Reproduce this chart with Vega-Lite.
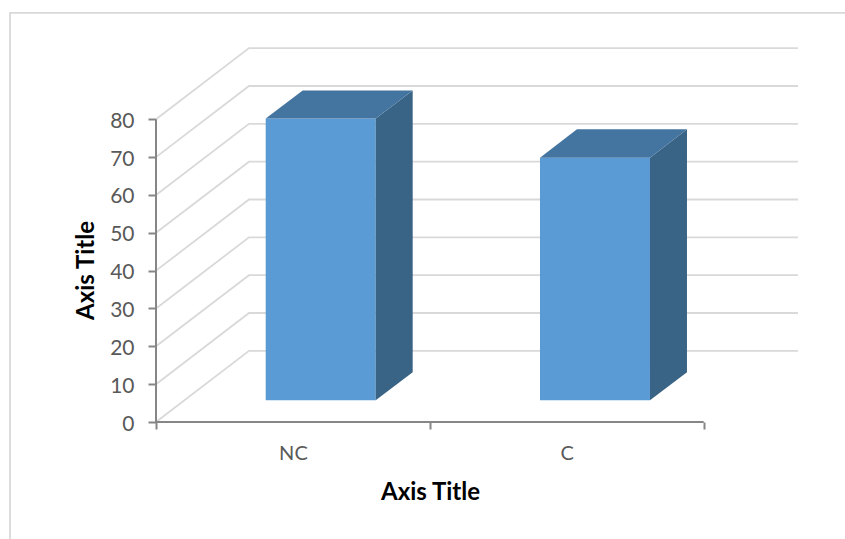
{
"$schema":"https://vega.github.io/schema/vega-lite/v6.json",
"width":642,"height":374,
"autosize":{"type":"none"},
"padding":{"left":156,"top":48,"right":47,"bottom":117},
"background":"white",
"config":{"view":{"stroke":null},"font":"Lato"},
"datasets":{
"lines":[
{"id":"frame","group":"frame","seq":1,"x":-0.5331,"y":-30.9},{"id":"frame","group":"frame","seq":2,"x":-0.5331,"y":108.1},{"id":"frame","group":"frame","seq":3,"x":2.516,"y":108.1},
{"id":"g0","group":"grid","seq":1,"x":0,"y":0},{"id":"g0","group":"grid","seq":2,"x":0.3396,"y":18.8},{"id":"g0","group":"grid","seq":3,"x":2.3444,"y":18.8},
{"id":"g10","group":"grid","seq":1,"x":0,"y":10},{"id":"g10","group":"grid","seq":2,"x":0.3396,"y":28.8},{"id":"g10","group":"grid","seq":3,"x":2.3444,"y":28.8},
{"id":"g20","group":"grid","seq":1,"x":0,"y":20},{"id":"g20","group":"grid","seq":2,"x":0.3396,"y":38.8},{"id":"g20","group":"grid","seq":3,"x":2.3444,"y":38.8},
{"id":"g30","group":"grid","seq":1,"x":0,"y":30},{"id":"g30","group":"grid","seq":2,"x":0.3396,"y":48.8},{"id":"g30","group":"grid","seq":3,"x":2.3444,"y":48.8},
{"id":"g40","group":"grid","seq":1,"x":0,"y":40},{"id":"g40","group":"grid","seq":2,"x":0.3396,"y":58.8},{"id":"g40","group":"grid","seq":3,"x":2.3444,"y":58.8},
{"id":"g50","group":"grid","seq":1,"x":0,"y":50},{"id":"g50","group":"grid","seq":2,"x":0.3396,"y":68.8},{"id":"g50","group":"grid","seq":3,"x":2.3444,"y":68.8},
{"id":"g60","group":"grid","seq":1,"x":0,"y":60},{"id":"g60","group":"grid","seq":2,"x":0.3396,"y":78.8},{"id":"g60","group":"grid","seq":3,"x":2.3444,"y":78.8},
{"id":"g70","group":"grid","seq":1,"x":0,"y":70},{"id":"g70","group":"grid","seq":2,"x":0.3396,"y":88.8},{"id":"g70","group":"grid","seq":3,"x":2.3444,"y":88.8},
{"id":"g80","group":"grid","seq":1,"x":0,"y":80},{"id":"g80","group":"grid","seq":2,"x":0.3396,"y":98.8},{"id":"g80","group":"grid","seq":3,"x":2.3444,"y":98.8}
],
"axes":[
{"id":"yaxis","seq":1,"x":0,"y":0},{"id":"yaxis","seq":2,"x":0,"y":80},
{"id":"xaxis","seq":1,"x":0,"y":0},{"id":"xaxis","seq":2,"x":2,"y":0}
],
"faces":[
{"bar":"NC","face":"front","x":0.4006,"y":80.2,"y2":5.73},{"bar":"NC","face":"front","x":0.8023,"y":80.2,"y2":5.73},
{"bar":"NC","face":"side","x":0.8023,"y":80.2,"y2":5.73},{"bar":"NC","face":"side","x":0.9374,"y":87.6,"y2":13.13},
{"bar":"NC","face":"top","x":0.4006,"y":80.2,"y2":80.2},{"bar":"NC","face":"top","x":0.5357,"y":87.6,"y2":80.2},{"bar":"NC","face":"top","x":0.8023,"y":87.6,"y2":80.2},{"bar":"NC","face":"top","x":0.9374,"y":87.6,"y2":87.6},
{"bar":"C","face":"front","x":1.4022,"y":69.85,"y2":5.73},{"bar":"C","face":"front","x":1.8039,"y":69.85,"y2":5.73},
{"bar":"C","face":"side","x":1.8039,"y":69.85,"y2":5.73},{"bar":"C","face":"side","x":1.939,"y":77.35,"y2":13.13},
{"bar":"C","face":"top","x":1.4022,"y":69.85,"y2":69.85},{"bar":"C","face":"top","x":1.5373,"y":77.35,"y2":69.85},{"bar":"C","face":"top","x":1.8039,"y":77.35,"y2":69.85},{"bar":"C","face":"top","x":1.939,"y":77.35,"y2":77.35}
]
},
"encoding":{
"x":{"field":"x","type":"quantitative","scale":{"domain":[0,2.3444],"nice":false,"zero":false},
"axis":{"values":[0,0.5,1,1.5,2],"domain":false,"grid":false,"tickSize":7,"tickColor":"#868686","tickWidth":2,
"tickOpacity":{"condition":{"test":"datum.value==0.5||datum.value==1.5","value":0},"value":1},
"labelExpr":"datum.value==0.5?'NC':datum.value==1.5?'C':''","labelFontSize":20,"labelColor":"#595959","labelPadding":14,"labelFont":"Lato","labelBound":false,"labelOverlap":false,"labelFlush":false,
"title":"Axis Title","titleFont":"Lato","titleFontSize":24,"titleFontWeight":"bold","titleColor":"#000000","titleAnchor":"middle","titleAlign":"center","titleBaseline":"middle","titleX":274,"titleY":70}},
"y":{"field":"y","type":"quantitative","stack":null,"scale":{"domain":[0,98.84],"nice":false,"zero":false},
"axis":{"values":[0,10,20,30,40,50,60,70,80],"domain":false,"grid":false,"tickSize":8,"tickColor":"#868686","tickWidth":2,"labelFontSize":21,"labelColor":"#595959","labelPadding":14,"labelOffset":2,"labelFont":"Lato","labelBound":false,"labelOverlap":false,
"title":"Axis Title","titleFont":"Lato","titleFontSize":24,"titleFontWeight":"bold","titleColor":"#000000","titleAlign":"center","titleBaseline":"middle","titleX":-70,"titleY":222}}
},
"layer":[
{"data":{"name":"lines"},
"mark":{"type":"line","strokeWidth":1.8,"interpolate":"linear","color":"#d9d9d9"},
"encoding":{
"order":{"field":"seq","type":"quantitative"},
"detail":{"field":"id","type":"nominal"}
}},
{"data":{"name":"axes"},
"mark":{"type":"line","strokeWidth":2,"color":"#868686"},
"encoding":{
"order":{"field":"seq","type":"quantitative"},
"detail":{"field":"id","type":"nominal"}
}},
{"data":{"name":"faces"},
"mark":{"type":"area","interpolate":"linear","opacity":1},
"encoding":{
"y2":{"field":"y2"},
"detail":{"field":"bar","type":"nominal"},
"color":{"field":"face","type":"nominal","legend":null,"scale":{"domain":["front","side","top"],"range":["#5b9bd5","#3a6486","#4474a0"]}}
}}
]
}
